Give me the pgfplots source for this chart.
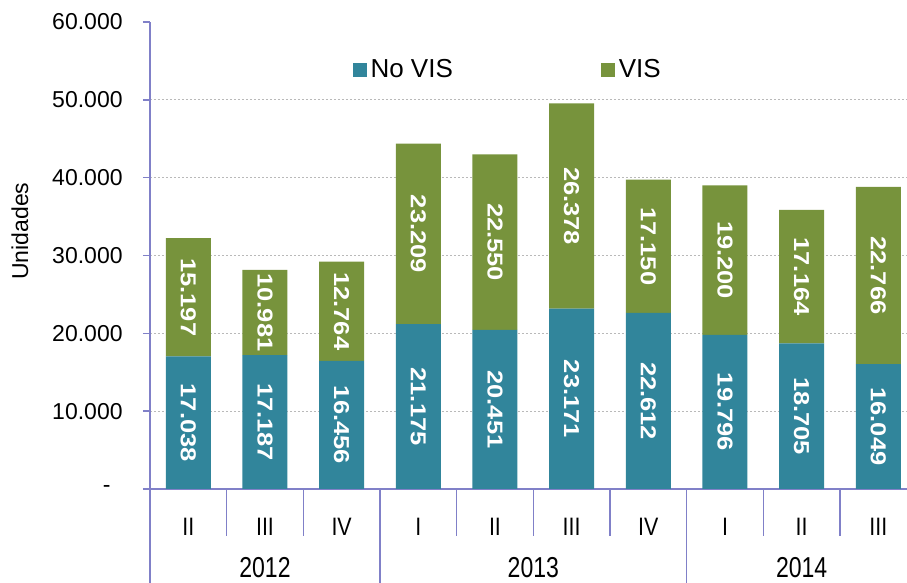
\documentclass[border=0pt]{standalone}
\usepackage{pgfplots}
\pgfplotsset{compat=1.18}
\usepackage{pgfplotstable}
\usepackage{fontspec}
\setmainfont{Liberation Sans}
\newfontfamily\narrowfont[FakeStretch=0.85]{Liberation Sans}
\newfontfamily\yearfont[FakeStretch=0.8]{Liberation Sans}
\newfontfamily\widefont[FakeStretch=1.18]{Liberation Sans}
\usetikzlibrary{calc}
\definecolor{novis}{RGB}{49,133,155}
\definecolor{vis}{RGB}{119,147,60}
\definecolor{axcol}{RGB}{128,128,200}
\definecolor{gridcol}{RGB}{185,185,185}
% values in thousands of units
\pgfplotstableread{
x novis vis
0 17.038 15.197
1 17.187 10.981
2 16.456 12.764
3 21.175 23.209
4 20.451 22.550
5 23.171 26.378
6 22.612 17.150
7 19.796 19.200
8 18.705 17.164
9 16.049 22.766
}\datatable
\newcommand{\lblfont}{\fontsize{11.5}{13}\selectfont}
\begin{document}
\begin{tikzpicture}
\begin{axis}[
  name=ax,
  scale only axis,
  width=378.5pt, height=233.5pt,
  xmin=-0.5, xmax=9.374,
  ymin=0, ymax=60,
  ybar stacked,
  bar width=0.587,
  clip=false,
  axis lines*=left,
  axis line style={axcol, line width=0.8pt},
  xtick={0,...,9},
  xticklabels={II,III,IV,I,II,III,IV,I,II,III},
  x tick style={draw=none},
  xticklabel style={anchor=center, yshift=-15.5pt, font=\narrowfont\fontsize{12.6}{14}\selectfont},
  ytick={0,10,...,50},
  yticklabels={-\kern6pt,10.000,20.000,30.000,40.000,50.000},
  extra y ticks={60},
  extra y tick labels={60.000},
  extra y tick style={grid=none},
  ymajorgrids,
  major grid style={gridcol, line width=0.4pt, dash pattern=on 1.2pt off 0.8pt},
  y tick style={axcol, line width=0.8pt},
  tick align=outside,
  major tick length=3.5pt,
  yticklabel style={anchor=east, inner sep=0pt, xshift=-10pt, font=\lblfont},
  ylabel={Unidades},
  ylabel style={at={(axis description cs:-0.172,0.552)}, anchor=center, font=\lblfont},
  legend style={draw=none, fill=none, at={(0.267,0.897)}, anchor=west,
    inner sep=0pt, font=\fontsize{13}{15}\selectfont,
    /tikz/every even column/.append style={column sep=72pt}},
  legend columns=2,
  legend image code/.code={\fill[#1,draw=none] (0pt,-3.5pt) rectangle (7pt,3.5pt);},
  point meta=explicit symbolic,
  nodes near coords,
  every node near coord/.append style={rotate=-90, anchor=center, text=white, font=\widefont\bfseries\fontsize{10.8}{12}\selectfont},
]
\addplot[fill=novis, draw=none]
  table[x=x, y=novis, meta=novis] {\datatable};
\addlegendentry{No VIS}
\addplot[fill=vis, draw=none]
  table[x=x, y=vis, meta=vis] {\datatable};
\addlegendentry{VIS}
% separators of the two-level category axis
\draw[axcol, line width=0.6pt] (axis cs:0.5,0) -- (axis cs:0.5,-6.1);
\draw[axcol, line width=0.6pt] (axis cs:1.5,0) -- (axis cs:1.5,-6.1);
\draw[axcol, line width=0.6pt] (axis cs:3.5,0) -- (axis cs:3.5,-6.1);
\draw[axcol, line width=0.6pt] (axis cs:4.5,0) -- (axis cs:4.5,-6.1);
\draw[axcol, line width=0.6pt] (axis cs:5.5,0) -- (axis cs:5.5,-6.1);
\draw[axcol, line width=0.6pt] (axis cs:7.5,0) -- (axis cs:7.5,-6.1);
\draw[axcol, line width=0.6pt] (axis cs:8.5,0) -- (axis cs:8.5,-6.1);
\draw[axcol, line width=0.8pt] (axis cs:-0.5,0) -- (axis cs:-0.5,-13);
\draw[axcol, line width=0.6pt] (axis cs:2.5,0) -- (axis cs:2.5,-13);
\draw[axcol, line width=0.6pt] (axis cs:6.5,0) -- (axis cs:6.5,-13);
\node[font=\yearfont\fontsize{14.4}{16}\selectfont] at (axis cs:1,-10.15) {2012};
\node[font=\yearfont\fontsize{14.4}{16}\selectfont] at (axis cs:4.5,-10.15) {2013};
\node[font=\yearfont\fontsize{14.4}{16}\selectfont] at (axis cs:8,-10.15) {2014};
\end{axis}
\pgfresetboundingbox
\path[use as bounding box] ($(ax.south west)+(-75pt,-47pt)$) rectangle ($(ax.north east)+(0pt,11pt)$);
\end{tikzpicture}
\end{document}
